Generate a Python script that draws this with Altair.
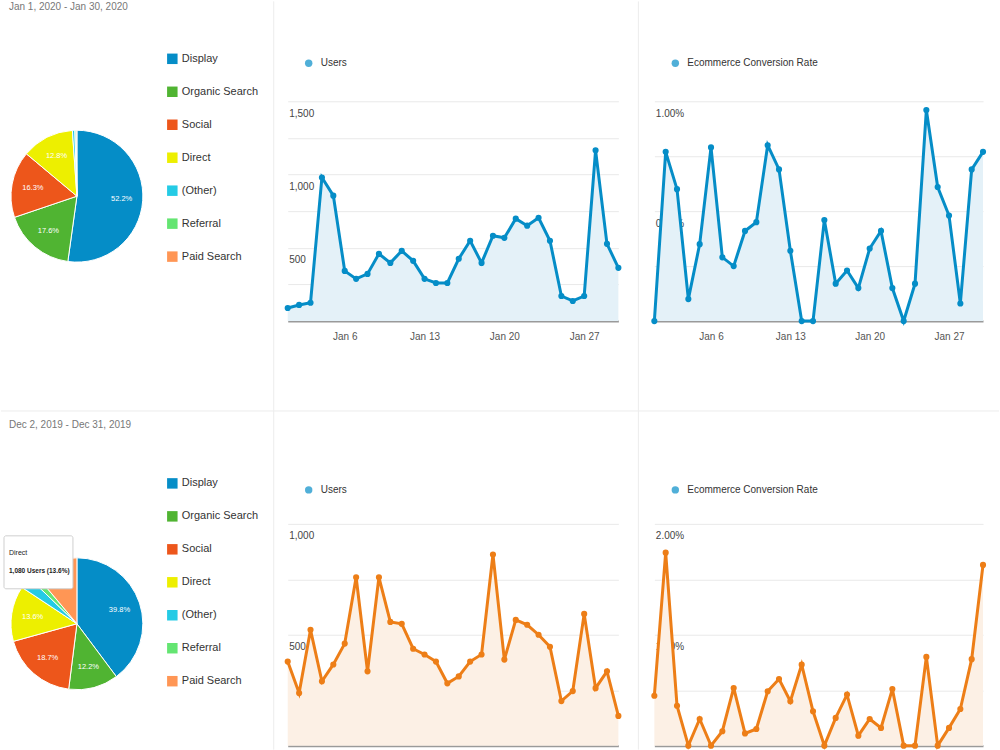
import altair as alt
import pandas as pd

FONT = "'Liberation Sans', Arial, sans-serif"

# ---------------- data ----------------
sources = ["Display", "Organic Search", "Social", "Direct", "(Other)", "Referral", "Paid Search"]
source_colors = ["#058dc7", "#50b432", "#ed561b", "#edef00", "#24cbe5", "#64e572", "#ff9655"]
jan_share = [52.2, 17.6, 16.3, 12.8, 0.6, 0.3, 0.2]
dec_share = [39.8, 12.2, 18.7, 13.6, 2.9, 1.7, 11.1]

jan_period = "Jan 1, 2020 - Jan 30, 2020"
dec_period = "Dec 2, 2019 - Dec 31, 2019"
dec_tooltip_title = "Direct"
dec_tooltip_value = "1,080 Users (13.6%)"

jan_dates = pd.date_range("2020-01-01", "2020-01-30").strftime("%Y-%m-%d").tolist()
dec_dates = pd.date_range("2019-12-02", "2019-12-31").strftime("%Y-%m-%d").tolist()

jan_users = [89, 110, 125, 980, 856, 342, 288, 322, 459, 397, 479, 411, 288, 260, 260,
             425, 548, 397, 582, 568, 699, 651, 705, 548, 171, 137, 171, 1165, 527, 363]
jan_rate = [0.00, 0.77, 0.60, 0.10, 0.35, 0.79, 0.29, 0.25, 0.41, 0.45, 0.80, 0.69, 0.32, 0.00, 0.00,
            0.46, 0.17, 0.23, 0.15, 0.33, 0.41, 0.15, 0.00, 0.17, 0.96, 0.61, 0.48, 0.08, 0.69, 0.77]
dec_users = [379, 237, 522, 290, 366, 460, 759, 335, 759, 558, 549, 437, 411, 379, 281,
             312, 379, 411, 862, 388, 567, 545, 500, 446, 201, 246, 594, 259, 335, 134]
dec_rate = [0.45, 1.74, 0.36, 0.00, 0.24, 0.00, 0.13, 0.52, 0.11, 0.15, 0.49, 0.60, 0.40, 0.73, 0.31,
            0.00, 0.25, 0.46, 0.09, 0.24, 0.16, 0.51, 0.00, 0.00, 0.80, 0.00, 0.16, 0.33, 0.78, 1.63]

jan_ticks = [6, 13, 20, 27]  # day of January labelled on the x axis

BLUE = "#058dc7"
ORANGE = "#ed7e17"
BLUE_FILL = "#e4f1f8"
ORANGE_FILL = "#fcf0e5"
DIVIDER = "#ececec"

PIE_W = 251
TOP_H = 220
BOT_H = 222
ROW_GAP = 203
COL_GAP = 36


def one_row():
    return pd.DataFrame({"k": [0]})


def rule(x=None, x2=None, y=None, y2=None):
    enc = {}
    if x is not None:
        enc["x"] = alt.value(x)
    if x2 is not None:
        enc["x2"] = alt.value(x2)
    if y is not None:
        enc["y"] = alt.value(y)
    if y2 is not None:
        enc["y2"] = alt.value(y2)
    return alt.Chart(one_row()).mark_rule(color=DIVIDER, strokeWidth=1).encode(**enc)


def pie_panel(shares, period, height, header_y, legend_y, cy, extra_layers):
    df = pd.DataFrame({"source": sources, "share": shares, "idx": list(range(len(sources)))})
    R = 66
    CX = 76
    base = alt.Chart(df).transform_calculate(
        label="datum.share >= 5 ? format(datum.share, '.1f') + '%' : ''"
    ).encode(
        theta=alt.Theta("share:Q", stack=True),
        order=alt.Order("idx:Q"),
    )
    arcs = base.mark_arc(outerRadius=R, stroke="white", strokeWidth=1).encode(
        color=alt.Color(
            "source:N",
            scale=alt.Scale(domain=sources, range=source_colors),
            legend=alt.Legend(
                title=None, orient="none", legendX=166, legendY=legend_y,
                symbolType="square", symbolSize=110, symbolStrokeWidth=0,
                labelFontSize=11, labelColor="#333", labelOffset=4,
                rowPadding=21, labelFont=FONT,
            ),
        ),
        x=alt.value(CX), y=alt.value(cy),
    )
    labels = base.mark_text(radius=R * 0.68, fontSize=7.5, font=FONT).encode(
        text="label:N", detail="source:N", color=alt.value("white"),
        x=alt.value(CX), y=alt.value(cy),
    )
    header = alt.Chart(pd.DataFrame({"t": [period]})).mark_text(
        align="left", baseline="middle", fontSize=10, color="#777", font=FONT
    ).encode(text="t:N", x=alt.value(8), y=alt.value(header_y))
    return alt.layer(arcs, labels, header, *extra_layers).properties(width=PIE_W, height=height)


def line_panel(dates, values, ymax, gstep, label_vals, kind, line_color, fill_color,
               legend_text, width, height, show_x_labels, legend_y, dividers):
    df = pd.DataFrame({"date": dates, "value": values})
    n = int(round(ymax / gstep))
    grid_vals = [round(gstep * i, 4) for i in range(1, n + 1)]
    if kind == "users":
        fmt = "format(datum.value, ',')"
    else:
        fmt = "format(datum.value, '.2f') + '%'"
    label_expr = f"indexof({label_vals}, datum.value) >= 0 ? {fmt} : ''"

    year, month = int(dates[0][:4]), int(dates[0][5:7])
    tick_vals = [alt.DateTime(year=year, month=month, date=d, utc=True) for d in jan_ticks]

    x = alt.X(
        "date:T", title=None,
        scale=alt.Scale(type="utc", nice=False),
        axis=alt.Axis(
            values=tick_vals, format="%b %-d", labels=show_x_labels, ticks=False, tickSize=0,
            grid=False, domainColor="#9a9a9a", domainWidth=2, labelColor="#555",
            labelFontSize=10, labelPadding=10, labelFont=FONT,
        ),
    )
    y = alt.Y(
        "value:Q", title=None,
        scale=alt.Scale(domain=[0, ymax], nice=False),
        axis=alt.Axis(
            values=grid_vals, labelExpr=label_expr, domain=False, ticks=False, tickSize=0,
            grid=True, gridColor="#e9e9e9", labelAlign="left", labelBaseline="top",
            labelPadding=-1, labelOffset=7, labelFontSize=10, labelColor="#444",
            labelFont=FONT,
        ),
    )
    area = alt.Chart(df).mark_area(color=fill_color).encode(x=x, y=y)
    line = alt.Chart(df).mark_line(
        color=line_color, strokeWidth=3,
        point=alt.OverlayMarkDef(filled=True, size=38, color=line_color),
    ).encode(x=x, y=y)
    legend_layer = alt.Chart(df).transform_calculate(series=f"'{legend_text}'").transform_filter(
        "false"
    ).mark_point(filled=True, size=55).encode(
        x=x, y=y,
        color=alt.Color(
            "series:N",
            scale=alt.Scale(domain=[legend_text], range=[BLUE]),
            legend=alt.Legend(
                title=None, orient="none", legendX=16, legendY=legend_y,
                symbolType="circle", symbolSize=55, labelFontSize=10, labelColor="#333",
                labelOffset=7, labelFont=FONT,
            ),
        ),
    )
    return alt.layer(area, line, legend_layer, *dividers).properties(width=width, height=height)


# top row (January)
pie_top = pie_panel(jan_share, jan_period, TOP_H, header_y=-94, legend_y=-48, cy=95, extra_layers=[])
users_top = line_panel(jan_dates, jan_users, 1500, 250, [500, 1000, 1500], "users", BLUE, BLUE_FILL,
                       "Users", 331, TOP_H, True, -43, [rule(x=-14, y=-100, y2=310)])
rate_top = line_panel(jan_dates, jan_rate, 1.0, 0.25, [0.5, 1.0], "rate", BLUE, BLUE_FILL,
                      "Ecommerce Conversion Rate", 329, TOP_H, True, -43,
                      [rule(x=-16, y=-100, y2=310)])

# bottom row (December)
tip_box = alt.Chart(one_row()).mark_rect(
    fill="white", stroke="#cfcfcf", strokeWidth=1, cornerRadius=2
).encode(x=alt.value(3), x2=alt.value(72), y=alt.value(12), y2=alt.value(65))
tip_title = alt.Chart(pd.DataFrame({"t": [dec_tooltip_title]})).mark_text(
    align="left", baseline="middle", fontSize=7, color="#222", font=FONT
).encode(text="t:N", x=alt.value(8), y=alt.value(29))
tip_value = alt.Chart(pd.DataFrame({"t": [dec_tooltip_value]})).mark_text(
    align="left", baseline="middle", fontSize=6.5, color="#222", fontWeight="bold", font=FONT
).encode(text="t:N", x=alt.value(8), y=alt.value(47))

pie_bot = pie_panel(dec_share, dec_period, BOT_H, header_y=-99, legend_y=-46, cy=100,
                    extra_layers=[rule(x=0, x2=999, y=-113), tip_box, tip_title, tip_value])
users_bot = line_panel(dec_dates, dec_users, 1000, 250, [500, 1000], "users", ORANGE, ORANGE_FILL,
                       "Users", 331, BOT_H, False, -39, [rule(x=-14, y=-113, y2=226)])
rate_bot = line_panel(dec_dates, dec_rate, 2.0, 0.5, [1.0, 2.0], "rate", ORANGE, ORANGE_FILL,
                      "Ecommerce Conversion Rate", 329, BOT_H, False, -39,
                      [rule(x=-16, y=-113, y2=226)])

row_top = alt.hconcat(pie_top, users_top, rate_top, spacing=COL_GAP, bounds="flush").resolve_scale(
    color="independent", x="independent", y="independent")
row_bot = alt.hconcat(pie_bot, users_bot, rate_bot, spacing=COL_GAP, bounds="flush").resolve_scale(
    color="independent", x="independent", y="independent")

# the nested rows report no height of their own in flush mode, so the gap spans the top row too
chart = alt.vconcat(row_top, row_bot, spacing=TOP_H + ROW_GAP, bounds="flush").resolve_scale(
    color="independent", x="independent", y="independent"
).properties(padding=0, background="white").configure(
    font=FONT, view=alt.ViewConfig(strokeWidth=0, stroke="transparent")
)

chart.save("out.html", embed_options={"renderer": "svg", "actions": False})
